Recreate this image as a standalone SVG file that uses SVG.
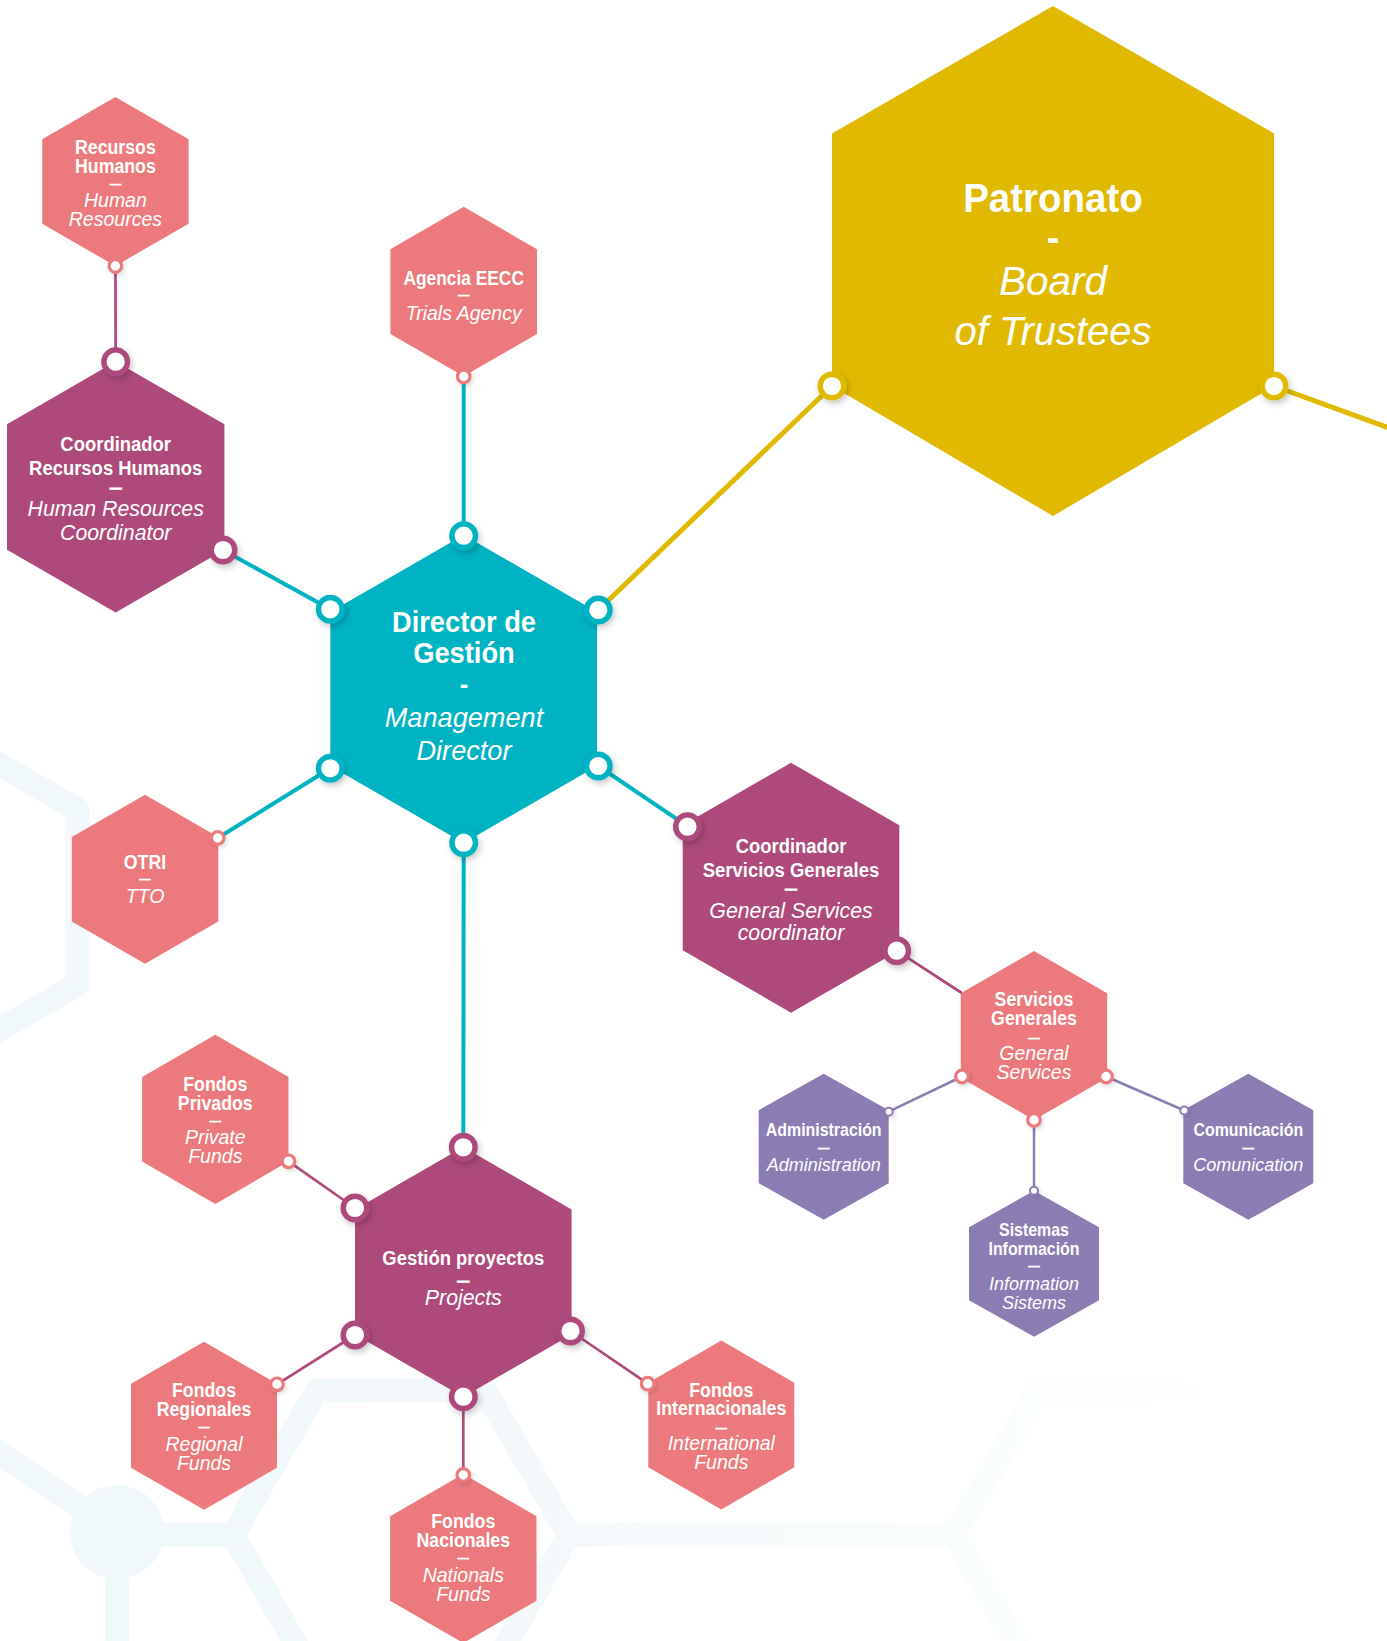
<svg xmlns="http://www.w3.org/2000/svg" width="1387" height="1641" viewBox="0 0 1387 1641">
<defs>
<linearGradient id="bgGrad" gradientUnits="userSpaceOnUse" x1="0" y1="0" x2="1260" y2="0">
<stop offset="0" stop-color="#F0F8FB"/>
<stop offset="0.4" stop-color="#F3F9FB"/>
<stop offset="0.72" stop-color="#F8FCFD"/>
<stop offset="0.97" stop-color="#FFFFFF"/>
</linearGradient>
<filter id="sh" x="-80%" y="-80%" width="260%" height="260%">
<feDropShadow dx="2" dy="3" stdDeviation="3" flood-color="#000" flood-opacity="0.22"/>
</filter>
<filter id="shs" x="-80%" y="-80%" width="260%" height="260%">
<feDropShadow dx="1.5" dy="2" stdDeviation="2" flood-color="#000" flood-opacity="0.15"/>
</filter>
</defs>
<style>
.bg{fill:none;stroke:url(#bgGrad);stroke-width:24;stroke-linejoin:round;stroke-linecap:round}
.teal{fill:#00B3C3}.yel{fill:#E0B900}.mag{fill:#AD4A7B}.pink{fill:#EC7A7D}.lav{fill:#8C7CB4}
.ln{fill:none;stroke-linecap:round}
.lt{stroke:#00B3C3;stroke-width:4}.ly{stroke:#E0B900;stroke-width:5}.lm{stroke:#AD4A7B;stroke-width:2.7}.ll{stroke:#8C7CB4;stroke-width:2.5}
.db{fill:#fff;stroke-width:5.4;filter:url(#sh)}
.ds{fill:#fff;stroke-width:3.2;filter:url(#shs)}
.dt{fill:#fff;stroke-width:2;filter:url(#shs)}
.st{stroke:#00B3C3}.sy{stroke:#E0B900}.sm{stroke:#AD4A7B}.sp{stroke:#EC7A7D}.sl{stroke:#8C7CB4}
text{font-family:"Liberation Sans",Arial,sans-serif;fill:#fff;text-anchor:middle}
.b{font-weight:700}.i{font-style:italic}
.pb{font-size:19.5px}.pi{font-size:19.5px}
.mb{font-size:20.5px}.mi{font-size:21.3px}
.vb{font-size:17.5px}.vi{font-size:18px}
.dsh{font-size:11.5px;font-weight:700;stroke:#fff;stroke-width:0.4}
.dshb{font-size:11.5px;font-weight:700;stroke:#fff;stroke-width:1.3}
</style>
<rect x="0" y="0" width="1387" height="1641" fill="#fff"/>
<g id="background">
<polygon class="bg" points="-74,722 77.5,809.5 77.5,984.5 -74,1072 -225.5,984.5 -225.5,809.5"/>
<line class="bg" x1="-10" y1="1447" x2="117" y2="1532"/>
<line class="bg" x1="117" y1="1532" x2="117" y2="1670"/>
<line class="bg" x1="117" y1="1534" x2="233" y2="1535"/>
<circle cx="117" cy="1532" r="47" fill="#F0F8FB"/>
<polygon class="bg" points="233,1535 317,1390.5 485,1390.5 569,1535 485,1680.5 317,1680.5"/>
<line class="bg" x1="569" y1="1535" x2="954" y2="1535"/>
<polygon class="bg" points="954,1535 1038,1390.5 1206,1390.5 1290,1535 1206,1680.5 1038,1680.5"/>
</g>
<g id="connectors">
<line class="ln lm" x1="115.4" y1="266" x2="115.7" y2="361.7"/>
<line class="ln lt" x1="463.7" y1="376.5" x2="463.7" y2="535.7"/>
<line class="ln lt" x1="223" y1="550" x2="330.3" y2="609.3"/>
<line class="ln ly" x1="598.3" y1="610" x2="832" y2="386"/>
<line class="ln ly" x1="1274" y1="386" x2="1400" y2="432"/>
<line class="ln lt" x1="330.3" y1="768.3" x2="217.7" y2="838"/>
<line class="ln lt" x1="598.3" y1="766" x2="688" y2="826.7"/>
<line class="ln lt" x1="463.7" y1="843" x2="463.3" y2="1147.3"/>
<line class="ln lm" x1="896.7" y1="950.7" x2="961" y2="992.5"/>
<line class="ln ll" x1="962" y1="1076.5" x2="888.7" y2="1111.7"/>
<line class="ln ll" x1="1106" y1="1076.5" x2="1184.3" y2="1110.5"/>
<line class="ln ll" x1="1034" y1="1120" x2="1034" y2="1190.7"/>
<line class="ln lm" x1="355" y1="1208" x2="288.5" y2="1161.3"/>
<line class="ln lm" x1="355" y1="1335" x2="277" y2="1384.3"/>
<line class="ln lm" x1="570.5" y1="1331" x2="647.7" y2="1383.7"/>
<line class="ln lm" x1="463.3" y1="1396.7" x2="463.3" y2="1475"/>
</g>
<g id="node-patronato">
<polygon class="yel" points="1053,6 1274,133.5 1274,386 1053,516 832,386 832,133.5"/>
<g transform="matrix(0.95,0,0,1,52.65,0)">
<text class="b" x="1053" y="212" font-size="40.5">Patronato</text>
<text class="b" x="1053" y="251.5" font-size="40">-</text>
</g>
<text class="i" x="1053" y="295" font-size="40.5">Board</text>
<text class="i" x="1053" y="345" font-size="40">of Trustees</text>
<circle class="db sy" cx="832" cy="386" r="11.8"/>
<circle class="db sy" cx="1274" cy="386" r="11.8"/>
</g>
<g id="node-director">
<polygon class="teal" points="463.7,535 597.1,612 597.1,766 463.7,843 330.3,766 330.3,612"/>
<g transform="matrix(0.91,0,0,1,41.76,0)">
<text class="b" x="464" y="631.7" font-size="30">Director de</text>
<text class="b" x="464" y="663.3" font-size="30">Gestión</text>
<text class="b" x="464" y="694" font-size="28">-</text>
</g>
<g transform="matrix(0.96,0,0,1,18.56,0)">
<text class="i" x="464" y="727.3" font-size="28.3">Management</text>
<text class="i" x="464" y="760" font-size="28.3">Director</text>
</g>
<circle class="db st" cx="463.7" cy="535.7" r="11.8"/>
<circle class="db st" cx="330.3" cy="609.3" r="11.8"/>
<circle class="db st" cx="598.3" cy="610" r="11.8"/>
<circle class="db st" cx="330.3" cy="768.3" r="11.8"/>
<circle class="db st" cx="598.3" cy="766" r="11.8"/>
<circle class="db st" cx="463.7" cy="842.7" r="11.8"/>
</g>
<g id="node-recursos-humanos">
<polygon class="pink" points="115.4,97 188.6,139.25 188.6,223.75 115.4,266 42.2,223.75 42.2,139.25"/>
<g transform="matrix(0.91,0,0,1,10.39,0)">
<text class="b pb" x="115.4" y="153.9">Recursos</text>
<text class="b pb" x="115.4" y="172.7">Humanos</text>
</g>
<text class="dsh" x="115.4" y="188.2">—</text>
<text class="i pi" x="115.4" y="207.3">Human</text>
<text class="i pi" x="115.4" y="226">Resources</text>
<circle class="ds sp" cx="115.4" cy="266" r="6.3"/>
</g>
<g id="node-agencia">
<polygon class="pink" points="463.7,206.8 537,249.2 537,333.9 463.7,376.2 390.4,333.9 390.4,249.2"/>
<g transform="matrix(0.89,0,0,1,51.01,0)">
<text class="b pb" x="463.7" y="284.7">Agencia EECC</text>
</g>
<text class="dsh" x="463.7" y="299">—</text>
<text class="i pi" x="463.7" y="319.5">Trials Agency</text>
<circle class="ds sp" cx="463.7" cy="376.5" r="6.3"/>
</g>
<g id="node-coord-rrhh">
<polygon class="mag" points="115.7,361.5 224.4,424.3 224.4,549.8 115.7,612.5 7,549.8 7,424.3"/>
<g transform="matrix(0.9,0,0,1,11.57,0)">
<text class="b mb" x="115.7" y="450.7">Coordinador</text>
<text class="b mb" x="115.7" y="475">Recursos Humanos</text>
</g>
<text class="dshb" x="115.7" y="491.5">—</text>
<text class="i mi" x="115.7" y="516">Human Resources</text>
<text class="i mi" x="115.7" y="540">Coordinator</text>
<circle class="db sm" cx="115.7" cy="361.7" r="11.8"/>
<circle class="db sm" cx="223" cy="550" r="11.8"/>
</g>
<g id="node-otri">
<polygon class="pink" points="145,794.7 218.2,837 218.2,921.5 145,963.7 71.8,921.5 71.8,837"/>
<g transform="matrix(0.91,0,0,1,13.05,0)">
<text class="b pb" x="145" y="869.3">OTRI</text>
</g>
<text class="dsh" x="145" y="882.5">—</text>
<text class="i pi" x="145" y="903.3">TTO</text>
<circle class="ds sp" cx="217.7" cy="838" r="6.3"/>
</g>
<g id="node-coord-sg">
<polygon class="mag" points="791,762.7 899.3,825.2 899.3,950.2 791,1012.7 682.7,950.2 682.7,825.2"/>
<g transform="matrix(0.9,0,0,1,79.1,0)">
<text class="b mb" x="791" y="853.3">Coordinador</text>
<text class="b mb" x="791" y="876.7">Servicios Generales</text>
</g>
<text class="dshb" x="791" y="893.2">—</text>
<text class="i mi" x="791" y="918.3">General Services</text>
<text class="i mi" x="791" y="940">coordinator</text>
<circle class="db sm" cx="687.5" cy="826.7" r="11.8"/>
<circle class="db sm" cx="896.7" cy="950.7" r="11.8"/>
</g>
<g id="node-servicios-generales">
<polygon class="pink" points="1034,951 1107.2,993.25 1107.2,1077.75 1034,1120 960.8,1077.75 960.8,993.25"/>
<g transform="matrix(0.91,0,0,1,93.06,0)">
<text class="b pb" x="1034" y="1006">Servicios</text>
<text class="b pb" x="1034" y="1025">Generales</text>
</g>
<text class="dsh" x="1034" y="1041.5">—</text>
<text class="i pi" x="1034" y="1060">General</text>
<text class="i pi" x="1034" y="1078.7">Services</text>
<circle class="ds sp" cx="962" cy="1076.5" r="6.3"/>
<circle class="ds sp" cx="1106" cy="1076.5" r="6.3"/>
<circle class="ds sp" cx="1034" cy="1120" r="6.3"/>
</g>
<g id="node-administracion">
<polygon class="lav" points="823.7,1073.7 888.7,1110.2 888.7,1183.2 823.7,1219.7 758.7,1183.2 758.7,1110.2"/>
<g transform="matrix(0.91,0,0,1,74.13,0)">
<text class="b vb" x="823.7" y="1136">Administración</text>
</g>
<text class="dsh" x="823.7" y="1151.9">—</text>
<text class="i vi" x="823.7" y="1170.7">Administration</text>
<circle class="dt sl" cx="888.7" cy="1111.7" r="4"/>
</g>
<g id="node-comunicacion">
<polygon class="lav" points="1248.3,1073.7 1313.3,1110.2 1313.3,1183.2 1248.3,1219.7 1183.3,1183.2 1183.3,1110.2"/>
<g transform="matrix(0.91,0,0,1,112.35,0)">
<text class="b vb" x="1248.3" y="1136">Comunicación</text>
</g>
<text class="dsh" x="1248.3" y="1151.9">—</text>
<text class="i vi" x="1248.3" y="1170.7">Comunication</text>
<circle class="dt sl" cx="1184.3" cy="1110.5" r="4"/>
</g>
<g id="node-sistemas">
<polygon class="lav" points="1034,1190.7 1099,1227.2 1099,1300.2 1034,1336.7 969,1300.2 969,1227.2"/>
<g transform="matrix(0.91,0,0,1,93.06,0)">
<text class="b vb" x="1034" y="1236">Sistemas</text>
<text class="b vb" x="1034" y="1255">Información</text>
</g>
<text class="dsh" x="1034" y="1269.9">—</text>
<text class="i vi" x="1034" y="1290">Information</text>
<text class="i vi" x="1034" y="1309">Sistems</text>
<circle class="dt sl" cx="1034" cy="1190.7" r="4"/>
</g>
<g id="node-gestion-proyectos">
<polygon class="mag" points="463.3,1147 571.6,1209.5 571.6,1334.5 463.3,1397 355,1334.5 355,1209.5"/>
<g transform="matrix(0.9,0,0,1,46.33,0)">
<text class="b mb" x="463.3" y="1265">Gestión proyectos</text>
</g>
<text class="dshb" x="463.3" y="1284.9">—</text>
<text class="i mi" x="463.3" y="1305" font-size="21.8">Projects</text>
<circle class="db sm" cx="463.3" cy="1147.3" r="11.8"/>
<circle class="db sm" cx="355" cy="1208" r="11.8"/>
<circle class="db sm" cx="355" cy="1335" r="11.8"/>
<circle class="db sm" cx="570.5" cy="1331" r="11.8"/>
<circle class="db sm" cx="463.3" cy="1396.7" r="11.8"/>
</g>
<g id="node-fondos-privados">
<polygon class="pink" points="215.3,1034.7 288.5,1077 288.5,1161.6 215.3,1203.9 142.1,1161.6 142.1,1077"/>
<g transform="matrix(0.91,0,0,1,19.38,0)">
<text class="b pb" x="215.3" y="1091">Fondos</text>
<text class="b pb" x="215.3" y="1109.7">Privados</text>
</g>
<text class="dsh" x="215.3" y="1124.9">—</text>
<text class="i pi" x="215.3" y="1144">Private</text>
<text class="i pi" x="215.3" y="1162.7">Funds</text>
<circle class="ds sp" cx="288.5" cy="1161.3" r="6.3"/>
</g>
<g id="node-fondos-regionales">
<polygon class="pink" points="204,1341.8 277,1383.8 277,1467.8 204,1509.8 131,1467.8 131,1383.8"/>
<g transform="matrix(0.91,0,0,1,18.36,0)">
<text class="b pb" x="204" y="1397">Fondos</text>
<text class="b pb" x="204" y="1416">Regionales</text>
</g>
<text class="dsh" x="204" y="1430.9">—</text>
<text class="i pi" x="204" y="1451">Regional</text>
<text class="i pi" x="204" y="1470">Funds</text>
<circle class="ds sp" cx="277" cy="1384.3" r="6.3"/>
</g>
<g id="node-fondos-internacionales">
<polygon class="pink" points="721.3,1340.5 794.3,1382.75 794.3,1467.25 721.3,1509.5 648.3,1467.25 648.3,1382.75"/>
<g transform="matrix(0.91,0,0,1,64.92,0)">
<text class="b pb" x="721.3" y="1397">Fondos</text>
<text class="b pb" x="721.3" y="1415">Internacionales</text>
</g>
<text class="dsh" x="721.3" y="1431.5">—</text>
<text class="i pi" x="721.3" y="1450.3" font-size="20.3">International</text>
<text class="i pi" x="721.3" y="1468.7">Funds</text>
<circle class="ds sp" cx="647.7" cy="1383.7" r="6.3"/>
</g>
<g id="node-fondos-nacionales">
<polygon class="pink" points="463.3,1474 536.5,1516.25 536.5,1600.75 463.3,1643 390.1,1600.75 390.1,1516.25"/>
<g transform="matrix(0.91,0,0,1,41.7,0)">
<text class="b pb" x="463.3" y="1527.7">Fondos</text>
<text class="b pb" x="463.3" y="1546.7">Nacionales</text>
</g>
<text class="dsh" x="463.3" y="1561.9">—</text>
<text class="i pi" x="463.3" y="1582">Nationals</text>
<text class="i pi" x="463.3" y="1601">Funds</text>
<circle class="ds sp" cx="463.3" cy="1475" r="6.3"/>
</g>
</svg>
